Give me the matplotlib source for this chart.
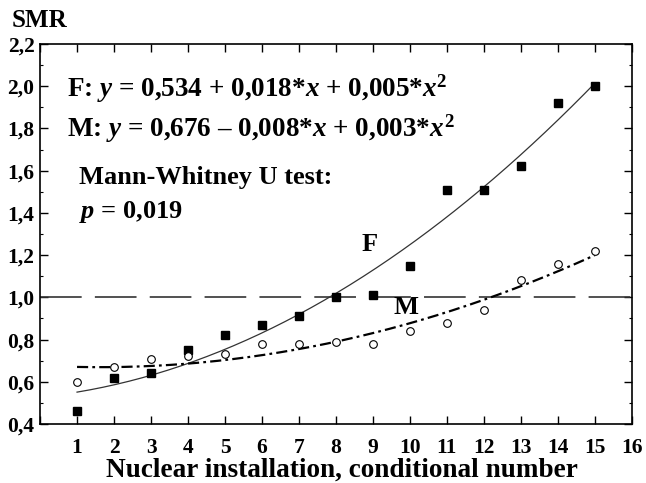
import matplotlib
matplotlib.use('Agg')
import numpy as np
import matplotlib.pyplot as plt
from matplotlib.ticker import MultipleLocator, FuncFormatter

# SMR by nuclear installation, females (F) and males (M)
installation = [1, 2, 3, 4, 5, 6, 7, 8, 9, 10, 11, 12, 13, 14, 15]
smr_f = [0.46, 0.62, 0.64, 0.75, 0.82, 0.87, 0.91, 1.00, 1.01, 1.15, 1.51, 1.51, 1.62, 1.92, 2.00]
smr_m = [0.60, 0.67, 0.71, 0.72, 0.73, 0.78, 0.78, 0.79, 0.78, 0.84, 0.88, 0.94, 1.08, 1.16, 1.22]
reference_smr = 1.0

eq_f = r"F: $\mathit{y}$ = 0,534 + 0,018*$\mathit{x}$ + 0,005*$\mathit{x}^{2}$"
eq_m = r"M: $\mathit{y}$ = 0,676 – 0,008*$\mathit{x}$ + 0,003*$\mathit{x}^{2}$"

plt.rcParams['font.family'] = ['Liberation Serif', 'DejaVu Serif']
plt.rcParams['font.weight'] = 'bold'
plt.rcParams['mathtext.fontset'] = 'custom'
plt.rcParams['mathtext.rm'] = 'Liberation Serif:bold'
plt.rcParams['mathtext.it'] = 'Liberation Serif:italic:bold'
plt.rcParams['mathtext.bf'] = 'Liberation Serif:bold'
plt.rcParams['lines.scale_dashes'] = False

fig = plt.figure(figsize=(6.46, 4.83), dpi=100)
ax = fig.add_axes([0.062, 0.122, 0.916, 0.787])

x = np.array(installation)
# quadratic trend lines fitted to the points
xs = np.linspace(x.min(), x.max(), 200)
pf = np.polyfit(x, smr_f, 2)
pm = np.polyfit(x, smr_m, 2)

ax.axhline(reference_smr, color='#333333', lw=1.2, dashes=(30, 9.5))
ax.plot(xs, np.polyval(pf, xs), color='#333333', lw=0.9)
ax.plot(xs, np.polyval(pm, xs), color='black', lw=1.6, dashes=(8, 3, 2, 3))
ax.plot(x, smr_f, 's', color='black', ms=5.6)
ax.plot(x, smr_m, 'o', mfc='white', mec='black', mew=0.8, ms=5.5)

ax.set_xlim(0, 16)
ax.set_ylim(0.4, 2.2)
ax.xaxis.set_major_locator(MultipleLocator(1))
ax.yaxis.set_major_locator(MultipleLocator(0.2))
ax.yaxis.set_minor_locator(MultipleLocator(0.1))
ax.xaxis.set_major_formatter(FuncFormatter(lambda v, p: '' if v == 0 else '%d' % v))
ax.yaxis.set_major_formatter(FuncFormatter(lambda v, p: ('%.1f' % v).replace('.', ',')))
ax.tick_params(axis='both', which='major', direction='in', length=6, width=1,
               top=True, right=True, labelsize=15.5)
ax.tick_params(axis='y', which='minor', direction='in', length=2.5, width=0.8,
               left=True, right=True)
ax.tick_params(axis='x', pad=10)
ax.tick_params(axis='y', pad=4)
for s in ax.spines.values():
    s.set_linewidth(1.2)

ax.set_xlabel('Nuclear installation, conditional number', fontsize=19.6,
              fontweight='bold')
ax.xaxis.set_label_coords(0.51, -0.088)
fig.text(0.018, 0.958, 'SMR', fontsize=18, fontweight='bold', va='center')

ax.text(0.72, 1.99, eq_f, fontsize=19.5, va='center')
ax.text(0.72, 1.80, eq_m, fontsize=19.5, va='center')
ax.text(1.05, 1.566, 'Mann-Whitney U test:', fontsize=19, va='center')
ax.text(1.05, 1.405, r'$\mathit{p}$ = 0,019', fontsize=19, va='center')
ax.text(8.7, 1.25, 'F', fontsize=19, va='center')
ax.text(9.55, 0.95, 'M', fontsize=19, va='center')

fig.savefig('out.png', dpi=100)
